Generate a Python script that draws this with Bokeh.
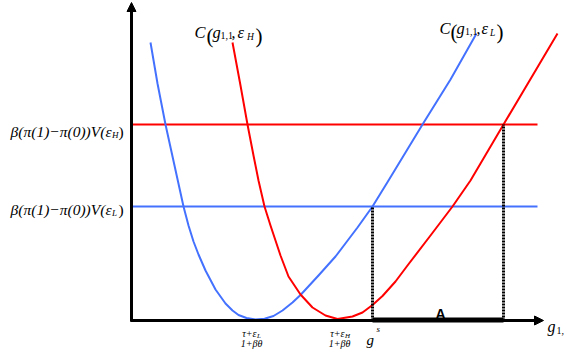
from bokeh.plotting import figure
from bokeh.models import Range1d, Label, Arrow, NormalHead
from bokeh.embed import file_html
from bokeh.resources import INLINE

# ---- data (g on x, cost on y; origin at the axes' intersection) ----
blue_g = [19, 26, 34, 43, 52, 57, 62, 67, 74, 84, 94, 101, 107, 115, 124, 133, 142, 151, 161, 169,
          187, 204, 226, 241, 257, 274, 291, 319, 345]
blue_c = [278, 237, 196, 155, 114, 95, 79, 66, 50, 31, 17, 10, 5.5, 2.5, 1, 1.7, 4.5, 10, 18, 25.5,
          45, 64, 93, 114, 140, 168, 196, 241, 287]
red_g = [101, 109, 116, 122, 127, 133, 139, 149, 157, 169, 181, 194, 206, 221, 231, 241, 251,
         264, 276, 299, 321, 339, 372, 426]
red_c = [278, 235, 196, 165, 140, 114, 95, 65, 44, 26, 13, 5, 1.5, 4, 8, 15.5, 24.5,
         39, 55, 85, 114, 140, 196, 287]

level_H = 196      # beta(pi(1)-pi(0))V(eps_H)
level_L = 114      # beta(pi(1)-pi(0))V(eps_L)
level_end = 406
g_s = 241          # blue curve meets level_L
g_hi = 372         # red curve meets level_H
x_axis_end = 412
y_axis_end = 318

RED = "#FF0000"
BLUE = "#4472FF"

p = figure(width=567, height=352, output_backend="svg", toolbar_location=None,
           x_range=Range1d(-131, 436), y_range=Range1d(-32, 320),
           min_border=0, x_axis_type=None, y_axis_type=None)
p.grid.visible = False
p.outline_line_color = None
p.background_fill_color = "white"
p.border_fill_color = "white"

# horizontal levels
p.line([0, level_end], [level_H, level_H], line_color=RED, line_width=2)
p.line([0, level_end], [level_L, level_L], line_color=BLUE, line_width=2)

# cost curves
p.line(blue_g, blue_c, line_color=BLUE, line_width=2, line_join="round")
p.line(red_g, red_c, line_color=RED, line_width=2, line_join="round")

# dotted verticals
p.line([g_s, g_s], [0, level_L], line_color="black", line_width=3, line_dash="2 1")
p.line([g_hi, g_hi], [0, level_H], line_color="black", line_width=3, line_dash="2 1")

# thick segment A
p.line([g_s, g_hi], [0.5, 0.5], line_color="black", line_width=5)

# axes
p.add_layout(Arrow(end=NormalHead(size=9, fill_color="black", line_color="black"),
                   x_start=0, y_start=-1, x_end=0, y_end=y_axis_end,
                   line_color="black", line_width=3))
p.add_layout(Arrow(end=NormalHead(size=9, fill_color="black", line_color="black"),
                   x_start=-1, y_start=0, x_end=x_axis_end, y_end=0,
                   line_color="black", line_width=3))


def txt(px, py, s, size, style="italic", font="Liberation Serif", align="left"):
    p.add_layout(Label(x=px - 131, y=320 - py, text=s, text_font=font,
                       text_font_size=f"{size}px", text_font_style=style,
                       text_align=align, text_baseline="alphabetic",
                       text_color="black"))


# C(g_{1,1}, eps_H)
txt(194, 32, "C", 16.5)
txt(206, 35, "(", 21, "normal")
txt(212, 32, "g", 16.5)
txt(220, 35, "1,1", 10, "normal")
txt(231, 32, ",", 16, "normal")
txt(237, 32, "ε", 16.5)
txt(246.5, 36, "H", 9.5)
txt(255, 35, ")", 21, "normal")

# C(g_{1,1}, eps_L)
txt(439, 28, "C", 16.5)
txt(450, 31, "(", 21, "normal")
txt(456, 28, "g", 16.5)
txt(464.5, 31, "1,1", 10, "normal")
txt(476, 28, ",", 16, "normal")
txt(481, 28, "ε", 16.5)
txt(489.5, 32, "L", 9.5)
txt(496, 31, ")", 21, "normal")

# level labels
for base, sub in ((131, "H"), (209, "L")):
    txt(111, base, "β(π(1)−π(0))V(ε", 15.5, align="right")
    txt(111.5, base + 3, sub, 9)
    txt(118, base, ")", 15.5, "normal")

# x tick fractions
for cx, sub in ((250, "L"), (338, "H")):
    txt(cx + 6, 333, "τ+ε", 10, align="right")
    txt(cx + 6.5, 335, sub, 7)
    txt(cx + 1, 343, "1+βθ", 10, align="center")

# g^s
txt(366, 339, "g", 15)
txt(376, 328, "s", 9)

# g_1,
txt(547, 326, "g", 16)
txt(556, 330, "1,", 10, "normal")

# A
txt(440, 313, "A", 14, "bold", "Liberation Sans", "center")

open("out.html", "w").write(file_html(p, INLINE))
